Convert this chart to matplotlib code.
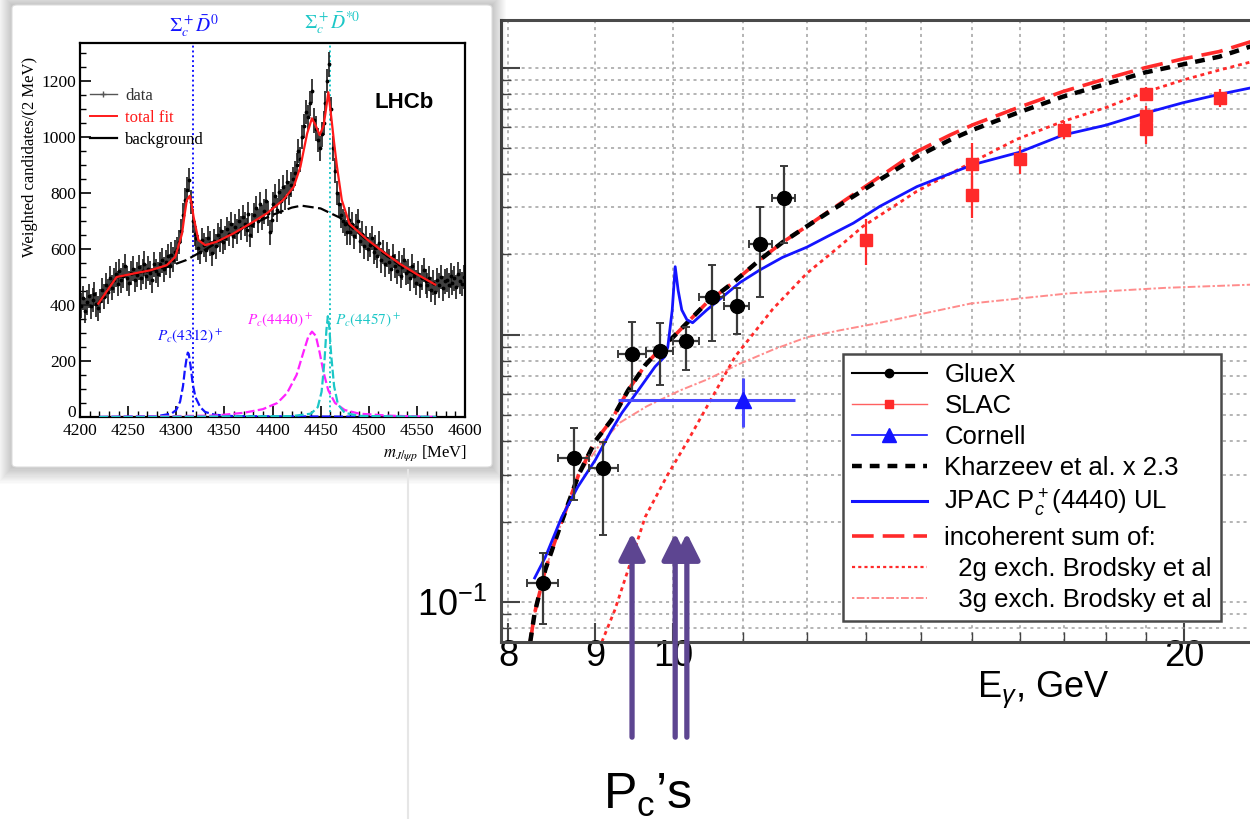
import numpy as np
import matplotlib
matplotlib.use("Agg")
import matplotlib.pyplot as plt
from matplotlib.lines import Line2D
from matplotlib.patches import Rectangle, FancyBboxPatch

plt.rcParams["font.family"] = ["Liberation Sans", "DejaVu Sans"]
plt.rcParams["mathtext.fontset"] = "custom"
plt.rcParams["mathtext.rm"] = "Liberation Sans"
plt.rcParams["mathtext.it"] = "Liberation Sans:italic"
plt.rcParams["mathtext.bf"] = "Liberation Sans:bold"

# ---------------- J/psi photoproduction: data ----------------
gluex_E = [8.38, 8.74, 9.10, 9.46, 9.82, 10.18, 10.54, 10.90, 11.26, 11.62]
gluex_sigma = [0.118, 0.346, 0.318, 0.849, 0.871, 0.950, 1.388, 1.284, 2.19, 3.26]
gluex_err_lo = [0.035, 0.105, 0.14, 0.23, 0.22, 0.21, 0.44, 0.28, 0.80, 1.06]
gluex_err_hi = [0.034, 0.103, 0.08, 0.27, 0.24, 0.12, 0.44, 0.22, 0.81, 1.04]
gluex_xerr = 0.18

slac_E = [13.0, 15.0, 15.0, 16.0, 17.0, 19.0, 19.0, 19.0, 21.0]
slac_sigma = [2.27, 4.37, 3.34, 4.56, 5.86, 8.0, 6.6, 5.9, 7.72]
slac_err = [0.45, 0.85, 0.6, 0.55, 0.45, 0.45, 0.6, 0.7, 0.6]

cornell_E = [11.0]
cornell_sigma = [0.571]
cornell_xerr = [[1.72], [0.80]]
cornell_yerr = [0.12]

# ---------------- model curves ----------------
jpac_E = [8.29, 8.41, 8.60, 8.79, 9.00, 9.20, 9.33, 9.54, 9.76, 9.89, 9.93, 9.99,
          10.03, 10.07, 10.12, 10.19, 10.27, 10.47, 10.70, 10.95, 11.25, 11.60,
          11.99, 12.32, 12.77, 13.24, 13.92, 15.02, 15.98, 16.97, 17.99, 18.96,
          19.97, 20.97, 21.87, 22.3]
jpac_sigma = [0.123, 0.147, 0.208, 0.27, 0.34, 0.44, 0.51, 0.62, 0.76, 0.83, 0.90, 1.24,
              1.80, 1.47, 1.24, 1.14, 1.11, 1.24, 1.39, 1.57, 1.75, 1.95,
              2.13, 2.33, 2.62, 3.03, 3.59, 4.34, 4.82, 5.6, 6.1, 6.76,
              7.4, 7.95, 8.4, 8.6]

kh_E = [8.24, 8.29, 8.41, 8.60, 8.80, 9.00, 9.20, 9.41, 9.63, 9.85, 10.0, 10.47,
        10.85, 11.25, 11.60, 11.99, 12.32, 12.75, 13.27, 13.92, 14.56, 15.02,
        15.94, 16.97, 17.99, 18.96, 19.97, 20.97, 21.87, 22.3]
kh_sigma = [0.0707, 0.091, 0.132, 0.20, 0.30, 0.40, 0.48, 0.62, 0.77, 0.90, 0.98, 1.32,
            1.57, 1.91, 2.22, 2.55, 2.85, 3.28, 3.85, 4.65, 5.37, 5.86,
            6.77, 7.8, 8.7, 9.6, 10.3, 11.0, 12.0, 12.3]

sum_E = kh_E
sum_sigma = [0.0707, 0.091, 0.132, 0.20, 0.30, 0.40, 0.48, 0.62, 0.77, 0.90, 0.98, 1.32,
             1.57, 1.91, 2.22, 2.55, 2.87, 3.33, 3.95, 4.86, 5.6, 6.12,
             7.07, 8.15, 9.1, 10.0, 10.8, 11.5, 12.5, 12.9]

g2_E = [9.08, 9.24, 9.41, 9.63, 9.93, 10.2, 10.54, 10.88, 11.45, 11.99, 12.54, 12.94,
        13.92, 15.02, 15.94, 16.97, 17.99, 18.96, 19.97, 20.97, 21.87, 22.3]
g2_sigma = [0.0708, 0.093, 0.132, 0.208, 0.30, 0.40, 0.58, 0.83, 1.25, 1.70, 2.15, 2.55,
            3.45, 4.45, 5.4, 6.3, 7.1, 8.1, 9.0, 9.8, 10.5, 10.8]

g3_E = [8.24, 8.29, 8.41, 8.60, 8.80, 9.06, 9.31, 9.65, 10.1, 10.47, 10.95, 11.45,
        11.99, 12.54, 13.24, 14.97, 17.1, 19.5, 21.8, 22.3]
g3_sigma = [0.0707, 0.091, 0.132, 0.20, 0.30, 0.39, 0.47, 0.54, 0.62, 0.68, 0.78, 0.88,
            0.98, 1.04, 1.11, 1.31, 1.43, 1.50, 1.54, 1.55]

pc_E = [9.46, 10.03, 10.19]

# ---------------- LHCb J/psi p mass spectrum ----------------
m_bins = np.arange(4201, 4600, 2)
counts = [398, 425, 380, 410, 432, 395, 418, 440, 402, 388,
          415, 452, 430, 470, 448, 495, 462, 488, 510, 476,
          520, 488, 505, 540, 495, 478, 515, 530, 490, 508,
          535, 498, 520, 548, 502, 530, 515, 488, 545, 522,
          510, 545, 560, 528, 552, 575, 540, 580, 562, 590,
          600, 625, 665, 720, 775, 812, 846, 768, 700, 655,
          640, 605, 590, 632, 615, 598, 640, 620, 585, 628,
          610, 650, 635, 665, 625, 640, 672, 655, 690, 648,
          680, 662, 700, 675, 715, 690, 668, 725, 650, 685,
          720, 745, 700, 760, 712, 735, 770, 728, 660, 705,
          760, 790, 740, 805, 770, 820, 785, 840, 800, 830,
          850, 870, 900, 950, 920, 1000, 1040, 1090, 1070, 1120,
          1165, 1060, 1030, 990, 960, 1010, 1050, 1120, 1200, 1260,
          1100, 960, 880, 800, 760, 720, 700, 690, 660, 705,
          660, 690, 645, 680, 700, 630, 655, 610, 640, 600,
          615, 640, 590, 605, 575, 620, 560, 590, 545, 580,
          555, 530, 575, 540, 520, 548, 505, 535, 560, 515,
          520, 495, 540, 505, 480, 512, 470, 498, 525, 485,
          470, 495, 455, 480, 445, 490, 470, 500, 460, 485,
          490, 470, 505, 480, 495, 465, 510, 485, 475, 500]
counts_err = 44

fit_m = [4219, 4238, 4255, 4273, 4290, 4299, 4306, 4309, 4311, 4314, 4316, 4318, 4323,
         4330, 4342, 4359, 4377, 4394, 4411, 4422, 4429, 4436, 4441, 4445, 4449,
         4453, 4455, 4458, 4461, 4464, 4467, 4472, 4480, 4498, 4515, 4532, 4550, 4569]
fit_y = [405, 500, 512, 524, 542, 572, 655, 730, 775, 790, 760, 715, 632,
         614, 626, 655, 691, 727, 775, 822, 894, 1013, 1067, 1040, 1007,
         1040, 1085, 1160, 1073, 980, 894, 775, 690, 635, 590, 548, 510, 473]

bkg_m = [4219, 4237, 4255, 4273, 4290, 4310, 4330, 4350, 4375, 4400, 4420, 4430,
         4450, 4470, 4490, 4510, 4530, 4550, 4569]
bkg_y = [405, 498, 510, 522, 535, 560, 598, 638, 682, 722, 748, 755,
         745, 712, 655, 598, 548, 505, 471]

pc4312_m = [4220, 4280, 4295, 4300, 4304, 4307, 4309, 4311, 4312, 4313, 4315, 4317,
            4320, 4325, 4330, 4340, 4360, 4570]
pc4312_y = [0, 3, 12, 25, 55, 110, 170, 215, 230, 225, 180, 120,
            70, 35, 18, 8, 3, 0]

pc4440_m = [4220, 4340, 4370, 4390, 4405, 4415, 4425, 4432, 4437, 4441, 4445, 4449,
            4453, 4458, 4465, 4475, 4490, 4520, 4570]
pc4440_y = [0, 5, 15, 28, 50, 85, 150, 230, 285, 305, 290, 230,
            160, 95, 50, 25, 12, 5, 0]

pc4457_m = [4220, 4420, 4440, 4447, 4451, 4454, 4456, 4457.5, 4459, 4461, 4464, 4468,
            4475, 4490, 4570]
pc4457_y = [0, 3, 12, 35, 90, 200, 310, 360, 320, 220, 110, 45,
            15, 4, 0]

thresholds = [4317.7, 4459.8]

W, H = 1250, 819
PURPLE = "#5d4591"
BLUE = "#1414ff"
RED = "#ff2a2a"
CYAN = "#1cc7c7"


def box(x0, y0, x1, y1):
    # pixel box with origin at the top-left -> figure fraction rect
    return [x0 / W, 1 - y1 / H, (x1 - x0) / W, (y1 - y0) / H]


fig = plt.figure(figsize=(W / 100, H / 100), dpi=100)

# faint edge of the cross-section panel
fig.add_artist(Line2D([408 / W, 408 / W], [0, 1 - 470 / H], color="#e6e6e6", lw=1.5))

# ---------------- main panel ----------------
ax = fig.add_axes(box(501, 20, 1400, 642))
ax.set_xscale("log")
ax.set_yscale("log")
ax.set_xlim(7.92, 26.8)
ax.set_ylim(0.0708, 15.1)

ax.set_xticks([8, 9, 10, 20])
ax.set_xticklabels(["8", "9", "10", "20"])
ax.set_xticks([11, 12, 13, 14, 15, 16, 17, 18, 19], minor=True)
ax.xaxis.set_minor_formatter(plt.NullFormatter())
ax.set_yticks([0.1, 1, 10])
ax.set_yticklabels([r"$10^{-1}$", "1", "10"])
ax.set_yticks([0.08, 0.09, 0.2, 0.3, 0.4, 0.5, 0.6, 0.7, 0.8, 0.9,
               2, 3, 4, 5, 6, 7, 8, 9], minor=True)
ax.yaxis.set_minor_formatter(plt.NullFormatter())
ax.tick_params(which="both", direction="in", colors="#444444", labelcolor="black",
               labelsize=26)
ax.tick_params(which="major", length=14, width=1.5)
ax.tick_params(which="minor", length=7, width=1.0)
ax.tick_params(axis="x", pad=-2)
ax.tick_params(axis="y", pad=10)
for s in ax.spines.values():
    s.set_linewidth(2.2)
    s.set_color("#4a4a4a")
ax.grid(which="both", color="#a0a0a0", ls=(0, (2, 2.5)), lw=1.1)
ax.set_axisbelow(True)

ax.plot(g3_E, g3_sigma, color="#ff8c8c", lw=1.4, ls=(0, (1.2, 1.2, 4, 1.2)))
ax.plot(g2_E, g2_sigma, color=RED, lw=2.0, ls=(0, (1.4, 1.4)))
ax.plot(sum_E, sum_sigma, color=RED, lw=2.6, ls=(0, (6, 2.5)))
ax.plot(kh_E, kh_sigma, color="black", lw=3.2, ls=(0, (2.2, 1.8)))
ax.plot(jpac_E, jpac_sigma, color=BLUE, lw=2.0)

ax.errorbar(cornell_E, cornell_sigma, xerr=cornell_xerr, yerr=cornell_yerr, fmt="^",
            color=BLUE, ms=11, elinewidth=2.2, ecolor="#4a4aff", capsize=0, zorder=5)
ax.errorbar(slac_E, slac_sigma, yerr=slac_err, fmt="s", color=RED, ms=8,
            elinewidth=1.6, capsize=0, zorder=5)
ax.errorbar(gluex_E, gluex_sigma, yerr=[gluex_err_lo, gluex_err_hi], xerr=gluex_xerr,
            fmt="o", color="black", ms=10, ecolor="#3a3a3a", elinewidth=1.6,
            capsize=3, capthick=1.4, zorder=6)

# P_c positions in photon energy
for e in pc_E:
    ax.annotate("", xy=(e, 0.175), xycoords=("data", "axes fraction"),
                xytext=(e, -0.153), textcoords=("data", "axes fraction"),
                annotation_clip=False,
                arrowprops=dict(arrowstyle="-|>,head_width=0.4,head_length=0.8",
                                color=PURPLE, lw=3.8, shrinkA=0, shrinkB=0,
                                mutation_scale=20))

handles = [
    Line2D([], [], color="black", lw=1.5, marker="o", ms=6),
    Line2D([], [], color="#ff6060", lw=1.0, marker="s", ms=6, mfc=RED, mec=RED),
    Line2D([], [], color=BLUE, lw=1.2, marker="^", ms=10),
    Line2D([], [], color="black", lw=3.2, ls=(0, (2.2, 1.8))),
    Line2D([], [], color=BLUE, lw=2.2),
    Line2D([], [], color=RED, lw=2.6, ls=(0, (6, 2.5))),
    Line2D([], [], color=RED, lw=1.6, ls=(0, (1.4, 1.4))),
    Line2D([], [], color="#ff8c8c", lw=1.4, ls=(0, (1.2, 1.2, 4, 1.2))),
]
labels = ["GlueX", "SLAC", "Cornell", "Kharzeev et al. x 2.3",
          r"JPAC P$_c^+$(4440) UL", "incoherent sum of:",
          "  2g exch. Brodsky et al", "  3g exch. Brodsky et al"]
leg = ax.legend(handles, labels, loc="upper left",
                bbox_to_anchor=(843 / W, 1 - 354 / H), bbox_transform=fig.transFigure,
                fontsize=18.5, frameon=True, fancybox=False, framealpha=1,
                edgecolor="#4a4a4a", borderpad=0.35, labelspacing=0.27,
                handlelength=2.9, handletextpad=0.7, borderaxespad=0)
leg.get_frame().set_linewidth(1.8)

fig.text(1043 / W, 1 - 690 / H, r"E$_\gamma$, GeV", fontsize=26, ha="center", va="center")
fig.text(648 / W, 1 - 795 / H, "P$_{\\rm c}$\u2019s", fontsize=36, ha="center", va="center")

# ---------------- inset card with drop shadow ----------------
cx0, cy0, cx1, cy1 = 12, 5, 492, 467
for k in range(14, 0, -1):
    r = box(cx0 - k, cy0 - k, cx1 + k, cy1 + k * 1.2)
    fig.add_artist(Rectangle((r[0], r[1]), r[2], r[3], transform=fig.transFigure,
                             facecolor="black", edgecolor="none", alpha=0.017,
                             zorder=1.5))
r = box(cx0, cy0, cx1, cy1)
fig.add_artist(FancyBboxPatch((r[0], r[1]), r[2], r[3], transform=fig.transFigure,
                              boxstyle="round,pad=0,rounding_size=0.004",
                              facecolor="white", edgecolor="#dddddd", lw=0.8,
                              zorder=2))

SERIF = ["Liberation Serif", "DejaVu Serif"]
axi = fig.add_axes(box(80, 43, 465, 417))
axi.set_zorder(3)
axi.set_xlim(4200, 4600)
axi.set_ylim(0, 1336)
axi.set_xticks(np.arange(4200, 4601, 50))
axi.set_xticks(np.arange(4200, 4601, 10), minor=True)
axi.set_yticks(np.arange(0, 1201, 200))
axi.set_yticks(np.arange(0, 1301, 50), minor=True)
axi.tick_params(which="both", direction="in", labelsize=12.5, pad=3)
axi.tick_params(axis="x", pad=4)
axi.tick_params(which="major", length=8, width=1.2)
axi.tick_params(which="minor", length=4, width=1.0)
for lab in axi.get_xticklabels() + axi.get_yticklabels():
    lab.set_family(SERIF)
# the "0" label sits on the axis line so it clears the "4200" below it
axi.get_yticklabels()[0].set_verticalalignment("baseline")
for s in axi.spines.values():
    s.set_linewidth(1.6)

for t, c in zip(thresholds, [BLUE, CYAN]):
    axi.axvline(t, color=c, lw=1.4, ls=(0, (1, 1.5)))

axi.errorbar(m_bins, counts, yerr=counts_err, xerr=1, fmt=".", color="black", ms=3.5,
             elinewidth=1.2, ecolor="#1a1a1a", zorder=2)
axi.plot(pc4312_m, pc4312_y, color=BLUE, lw=1.6, ls=(0, (4, 1.5)), zorder=3)
axi.plot(pc4440_m, pc4440_y, color="#ff22ff", lw=1.6, ls=(0, (4, 1.5)), zorder=3)
axi.plot(pc4457_m, pc4457_y, color=CYAN, lw=1.6, ls=(0, (4, 1.5)), zorder=3)
axi.plot(bkg_m, bkg_y, color="black", lw=1.6, ls=(0, (5, 2)), zorder=3)
axi.plot(fit_m, fit_y, color="#ff1a1a", lw=1.6, zorder=4)

axi.text(4318, 1395, r"$\Sigma_c^+\bar{D}^0$", color=BLUE, fontsize=14,
         ha="center", va="center", math_fontfamily="stix")
axi.text(4462, 1405, r"$\Sigma_c^+\bar{D}^{*0}$", color=CYAN, fontsize=14,
         ha="center", va="center", math_fontfamily="stix")
axi.text(4314, 290, r"$P_c(4312)^+$", color=BLUE, fontsize=11, ha="center",
         va="center", math_fontfamily="stix")
axi.text(4408, 345, r"$P_c(4440)^+$", color="#ff22ff", fontsize=11, ha="center",
         va="center", math_fontfamily="stix")
axi.text(4465, 345, r"$P_c(4457)^+$", color=CYAN, fontsize=11, ha="left",
         va="center", math_fontfamily="stix")
axi.text(4537, 1125, "LHCb", fontsize=16, fontweight="bold", ha="center", va="center")

ih = [Line2D([], [], color="#555555", lw=1.0, marker="+", ms=5),
      Line2D([], [], color="#ff1a1a", lw=1.4),
      Line2D([], [], color="black", lw=1.6)]
ileg = axi.legend(ih, ["data", "total fit", "background"], loc="upper left",
                  bbox_to_anchor=(90 / W, 1 - 88 / H), bbox_transform=fig.transFigure,
                  frameon=False, prop={"family": SERIF, "size": 12},
                  handlelength=1.6, handletextpad=0.5, labelspacing=0.35,
                  borderpad=0, borderaxespad=0)
for txt, c in zip(ileg.get_texts(), ["#333333", "#ff1a1a", "black"]):
    txt.set_color(c)

fig.text(30 / W, 1 - 157 / H, "Weighted candidates/(2 MeV)", rotation=90,
         fontsize=12, family=SERIF, ha="center", va="center", zorder=4)
fig.text(467 / W, 1 - 453 / H, r"$m_{J/\psi p}$ [MeV]", fontsize=12, ha="right",
         va="center", math_fontfamily="stix", family=SERIF, zorder=4)

fig.savefig("out.png", dpi=100)
